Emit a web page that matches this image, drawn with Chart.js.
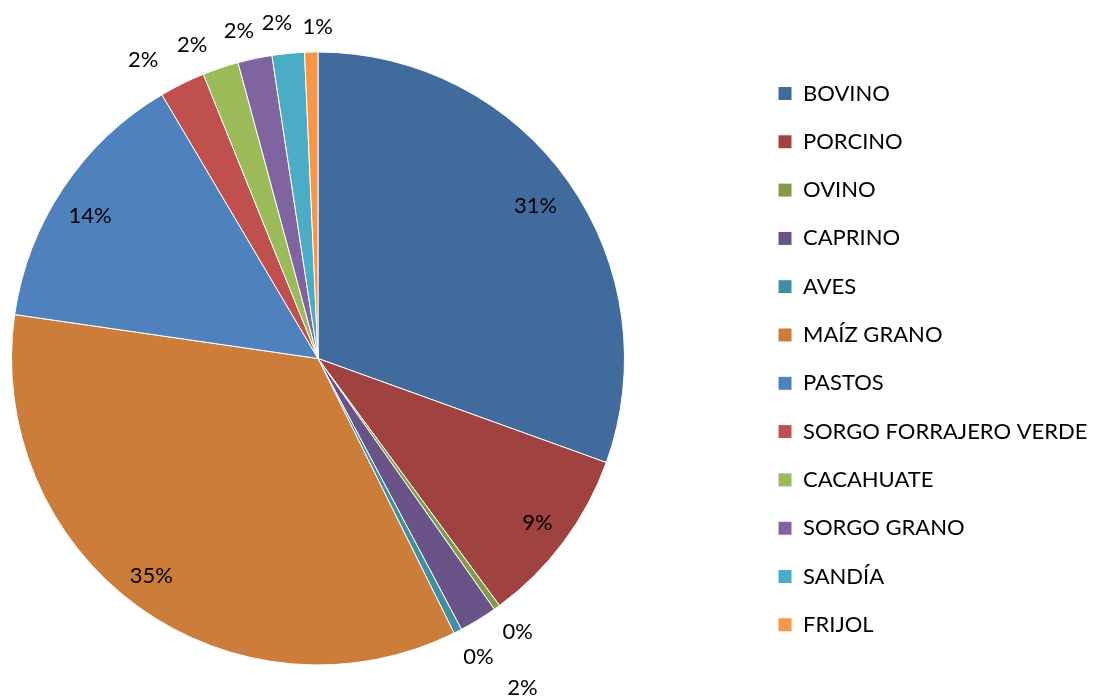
<!DOCTYPE html>
<html>
<head>
<meta charset="utf-8">
<script src="https://cdn.jsdelivr.net/npm/chart.js@4/dist/chart.umd.min.js"></script>
<style>
html,body{margin:0;padding:0;background:#ffffff;}
#wrap{width:1096px;height:698px;position:relative;}
</style>
</head>
<body>
<div id="wrap"><canvas id="c" width="1096" height="698"></canvas></div>
<script>
// ---- data ----
const categories = ["BOVINO","PORCINO","OVINO","CAPRINO","AVES","MAÍZ GRANO","PASTOS","SORGO FORRAJERO VERDE","CACAHUATE","SORGO GRANO","SANDÍA","FRIJOL"];
const shares = [30.5, 9.4, 0.33, 2.0, 0.43, 34.6, 14.2, 2.4, 1.9, 1.8, 1.7, 0.7];
const sliceColors = ["#426B9D","#9F4240","#819B4A","#6A5386","#3E8FA4","#CD7D3A","#4F81BD","#C0504D","#9BBB59","#8064A2","#4BACC6","#F79646"];

// ---- style / placement config ----
const FONT = "Lato, 'Liberation Sans', sans-serif";
const FONT_SIZE = 22;
// label placement per slice: radius factor (of outer radius), angle offset in degrees
const labelPlacement = [
  [0.867, 0], [0.894, 0], [1.105, -0.4], [1.266, -0.3], [1.106, -1.1],
  [0.893, 1.6], [0.877, -1.8], [1.128, -4.1], [1.104, -3.3], [1.098, -1.7],
  [1.104, -1.4], [1.083, 1.2]
];
const legendBoxX = 778;
const legendFirstRowTop = 82.5;
const legendLayoutWidth = 1096 - 11 - 614;

const layoutPlugin = {
  id: 'layoutTweak',
  beforeInit(chart) {
    const lg = chart.legend;
    const origFit = lg.fit.bind(lg);
    lg.fit = function () {
      origFit();
      this.width = legendLayoutWidth;
    };
  },
  afterLayout(chart) {
    const lg = chart.legend;
    const pad = lg.options.labels.padding;
    const w = lg.width;
    lg.left = legendBoxX - pad;
    lg.right = lg.left + w;
    lg.top = legendFirstRowTop - pad;
    lg.bottom = 698;
    lg.height = lg.bottom - lg.top;
  }
};

const labelPlugin = {
  id: 'pctLabels',
  afterDatasetsDraw(chart) {
    const ctx = chart.ctx;
    const meta = chart.getDatasetMeta(0);
    const data = chart.data.datasets[0].data;
    const total = data.reduce((a, b) => a + b, 0);
    ctx.save();
    ctx.font = FONT_SIZE + "px " + FONT;
    ctx.fillStyle = "#000000";
    ctx.textAlign = "center";
    ctx.textBaseline = "middle";
    meta.data.forEach((arc, i) => {
      const p = arc.getProps(['x','y','startAngle','endAngle','outerRadius'], true);
      const [rf, off] = labelPlacement[i];
      const mid = (p.startAngle + p.endAngle) / 2 + off * Math.PI / 180;
      const r = p.outerRadius * rf;
      const x = p.x + Math.cos(mid) * r;
      const y = p.y + Math.sin(mid) * r;
      const pct = Math.round(data[i] / total * 100);
      ctx.fillText(pct + "%", x, y);
    });
    ctx.restore();
  }
};

new Chart(document.getElementById('c'), {
  type: 'pie',
  data: {
    labels: categories,
    datasets: [{
      data: shares,
      backgroundColor: sliceColors,
      borderColor: '#ffffff',
      borderWidth: 1
    }]
  },
  options: {
    responsive: false,
    devicePixelRatio: 1,
    animation: false,
    layout: { padding: { left: 11, top: 51, bottom: 32, right: 0 } },
    plugins: {
      tooltip: { enabled: false },
      legend: {
        position: 'right',
        align: 'start',
        labels: {
          boxWidth: 14,
          boxHeight: 14,
          padding: 26.3,
          color: '#000000',
          font: { family: FONT, size: FONT_SIZE }
        }
      }
    }
  },
  plugins: [layoutPlugin, labelPlugin]
});
</script>
</body>
</html>
